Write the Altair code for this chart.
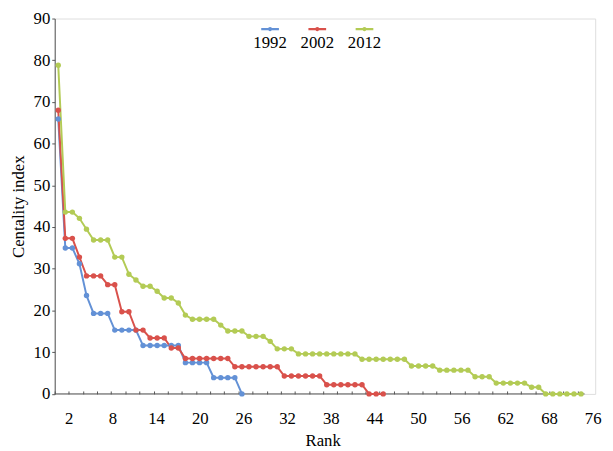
import altair as alt
import pandas as pd

years = ["1992", "2002", "2012"]
colors = ["#6391d6", "#d9514b", "#b3cb55"]

v1992 = [65.9, 35.0, 35.0, 31.2, 23.6, 19.3, 19.3, 19.3, 15.3, 15.3, 15.3, 15.3,
         11.6, 11.6, 11.6, 11.6, 11.6, 11.6, 7.5, 7.5, 7.5, 7.5, 3.9, 3.9, 3.9, 3.9, 0.0]

v2002 = [68.0, 37.3, 37.3, 32.8, 28.3, 28.3, 28.3, 26.2, 26.2, 19.7, 19.7, 15.3, 15.3,
         13.4, 13.4, 13.4, 11.0, 11.0, 8.5, 8.5, 8.5, 8.5, 8.5, 8.5, 8.5,
         6.5, 6.5, 6.5, 6.5, 6.5, 6.5, 6.5, 4.3, 4.3, 4.3, 4.3, 4.3, 4.3,
         2.2, 2.2, 2.2, 2.2, 2.2, 2.2, 0.0, 0.0, 0.0]

v2012 = [78.8, 43.6, 43.6, 42.1, 39.5, 36.9, 36.9, 36.9, 32.8, 32.8, 28.7, 27.3, 25.8,
         25.8, 24.6, 23.0, 23.0, 21.8, 18.9, 17.9, 17.9, 17.9, 17.9, 16.5, 15.1, 15.1,
         15.1, 13.8, 13.8, 13.8, 12.6, 10.8, 10.8, 10.8,
         9.6, 9.6, 9.6, 9.6, 9.6, 9.6, 9.6, 9.6, 9.6,
         8.3, 8.3, 8.3, 8.3, 8.3, 8.3, 8.3,
         6.7, 6.7, 6.7, 6.7, 5.7, 5.7, 5.7, 5.7, 5.7, 4.1, 4.1, 4.1,
         2.6, 2.6, 2.6, 2.6, 2.6, 1.6, 1.6, 0.0, 0.0, 0.0, 0.0, 0.0, 0.0]

x_tick_labels = ["2", "8", "14", "20", "26", "32", "38", "44", "50", "56", "62", "68", "76"]
y_ticks = [0, 10, 20, 30, 40, 50, 60, 70, 80, 90]

rows = []
for yr, vals in zip(years, [v1992, v2002, v2012]):
    for i, v in enumerate(vals):
        rows.append({"Rank": i + 1, "Value": v, "Year": yr})
df = pd.DataFrame(rows)

axis_line = pd.DataFrame({"x0": [0.5], "x1": [75.5], "y0": [0]})

FONT = "Liberation Serif"
PX = 7.184                      # pixels per rank
X0, X1 = 0.5, 77.0              # scale domain
W, H = (X1 - X0) * PX, 381.7

label_start, label_step = 2.49, 6.18
label_pos = [round(label_start + label_step * i, 3) for i in range(len(x_tick_labels))]
label_arr = "[" + ",".join("'" + t + "'" for t in x_tick_labels) + "]"
label_expr = f"{label_arr}[round((datum.value - {label_start}) / {label_step})]"
tick_pos = [0.5 + 2 * j for j in range(38)]

xscale = alt.Scale(domain=[X0, X1], nice=False, zero=False)
yscale = alt.Scale(domain=[0, 90], nice=False)

sym_path = ("M-1,-0.82H1V-0.58H-1Z "
            "M-0.24,-0.7A0.24,0.24 0 1,1 0.24,-0.7A0.24,0.24 0 1,1 -0.24,-0.7Z")

legend = alt.Legend(
    orient="none", legendX=210, legendY=8, direction="horizontal", title=None,
    symbolType=sym_path, symbolSize=324, symbolStrokeWidth=0,
    labelAlign="center", labelBaseline="top", labelOffset=alt.ExprRef(expr="-9"),
    columnPadding=14, labelFont=FONT, labelFontSize=17, labelColor="black",
)

color = alt.Color("Year:N", scale=alt.Scale(domain=years, range=colors), legend=legend)

y_axis = alt.Axis(values=y_ticks, grid=False, tickSize=3, tickColor="#555555",
                  domainColor="#555555", labelFont=FONT, labelFontSize=17,
                  labelColor="black", labelPadding=2,
                  title="Centality index", titleFont=FONT, titleFontSize=17,
                  titleFontWeight="normal", titleColor="black",
                  titleAngle=-90, titleX=-37, titleY=H / 2,
                  titleAlign="center", titleBaseline="middle")

lines = alt.Chart(df).mark_line(strokeWidth=2).encode(
    x=alt.X("Rank:Q", scale=xscale,
            axis=alt.Axis(orient="bottom", values=label_pos, labelExpr=label_expr,
                          ticks=False, grid=False, domain=False,
                          labelFont=FONT, labelFontSize=17, labelColor="black",
                          labelPadding=17, labelFlush=False, labelOverlap=False,
                          title="Rank", titleFont=FONT, titleFontSize=17,
                          titleFontWeight="normal", titleColor="black",
                          titleX=272.5,
                          titleBaseline="alphabetic", titleY=52)),
    y=alt.Y("Value:Q", scale=yscale, axis=y_axis),
    color=color,
)

points = alt.Chart(df).mark_point(filled=True, size=30, opacity=1).encode(
    x=alt.X("Rank:Q", scale=xscale,
            axis=alt.Axis(orient="top", offset=-H, values=tick_pos, labels=False,
                          domain=False, grid=False, ticks=True, tickSize=3,
                          tickColor="#555555", title=None)),
    y=alt.Y("Value:Q", scale=yscale, axis=y_axis),
    color=color,
)

baseline = alt.Chart(axis_line).mark_rule(color="#555555", strokeWidth=1).encode(
    x=alt.X("x0:Q", scale=xscale, axis=None),
    x2="x1:Q",
    y=alt.Y("y0:Q", scale=yscale, axis=y_axis),
)

chart = alt.layer(baseline, lines, points).resolve_axis(x="independent").properties(
    width=W, height=H,
    autosize=alt.AutoSizeParams(type="none"),
    padding={"left": 47.5, "top": 7, "right": 10, "bottom": 54},
).configure_view(stroke=None).configure(background="white")

chart.save("out.html", embed_options={"renderer": "svg", "actions": False})
